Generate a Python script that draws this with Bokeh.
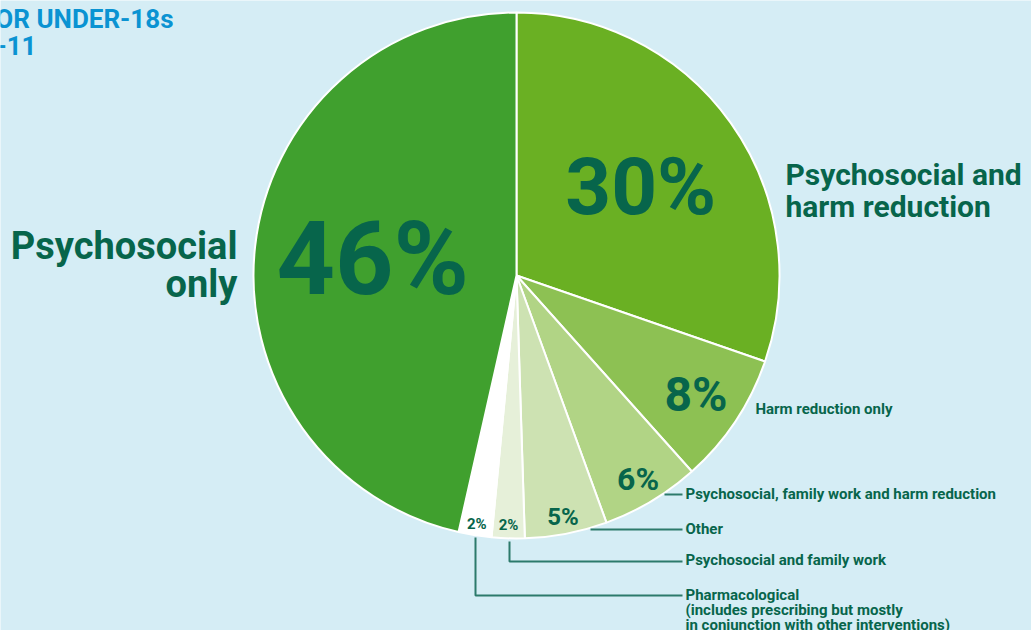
import math
from bokeh.plotting import figure
from bokeh.models import Range1d, ColumnDataSource
from bokeh.core.properties import value
from bokeh.embed import file_html
from bokeh.resources import INLINE

# ---- data ----
categories = ["Psychosocial and harm reduction", "Harm reduction only",
              "Psychosocial, family work and harm reduction", "Other",
              "Psychosocial and family work", "Pharmacological", "Psychosocial only"]
percent = [30, 8, 6, 5, 2, 2, 46]
pct_labels = ["30%", "8%", "6%", "5%", "2%", "2%", "46%"]

# ---- styles ----
W, H = 1031, 630
BG = "#d5edf5"
TXT = "#07654b"
LEAD = "#2c7a6b"
colors = ["#6ab023", "#8dc153", "#b1d485", "#cde2b2", "#e6f0d9", "#ffffff", "#40a02e"]
lab_r = [0.58, 0.82, 0.90, 0.935, 0.95, 0.955, 0.55]
lab_size = ["80px", "48px", "32px", "24px", "15px", "15px", "102px"]
FONT = "Roboto"

def Y(y):  # image y (down) -> plot y (up)
    return H - y

cx, cy, R = 516, Y(275), 263

p = figure(width=W, height=H, output_backend="svg", toolbar_location=None,
           x_range=Range1d(0, W), y_range=Range1d(0, H), min_border=0)
p.axis.visible = False
p.grid.visible = False
p.outline_line_color = None
p.background_fill_color = BG
p.border_fill_color = BG

total = float(sum(percent))
starts, ends, mids = [], [], []
cum = 0.0
for v in percent:
    a = cum / total
    b = (cum + v) / total
    starts.append(math.pi / 2 - 2 * math.pi * b)
    ends.append(math.pi / 2 - 2 * math.pi * a)
    mids.append(math.pi / 2 - 2 * math.pi * (a + b) / 2)
    cum += v

src = ColumnDataSource(dict(start=starts, end=ends, color=colors, cat=categories, val=percent))
p.wedge(x=cx, y=cy, radius=R, start_angle="start", end_angle="end", fill_color="color",
        line_color="white", line_width=2, source=src)

# percentage labels
for lab, m, rf, fs in zip(pct_labels, mids, lab_r, lab_size):
    p.text(x=[cx + rf * R * math.cos(m)], y=[cy + rf * R * math.sin(m)], text=[lab],
           text_font=value(FONT), text_font_style="bold", text_font_size=fs,
           text_color=TXT, text_align="center", text_baseline="middle")

def txt(x, y, s, size, align="left", color=TXT):
    p.text(x=[x], y=[Y(y)], text=[s], text_font=value(FONT), text_font_style="bold",
           text_font_size=size, text_color=color, text_align=align, text_baseline="middle")

# big category labels
txt(785, 174, "Psychosocial and", "30px")
txt(785, 206, "harm reduction", "30px")
txt(237, 245, "Psychosocial", "38px", align="right")
txt(237, 283, "only", "38px", align="right")
SM = "15px"
txt(755, 408, "Harm reduction only", SM)
txt(685, 493, "Psychosocial, family work and harm reduction", SM)
txt(685, 528, "Other", SM)
txt(685, 559, "Psychosocial and family work", SM)
txt(685, 594, "Pharmacological", SM)
txt(685, 609, "(includes prescribing but mostly", SM)
txt(685, 624, "in conjunction with other interventions)", SM)

# leader lines
leaders_x = [[664, 682], [590, 682], [509, 509, 682], [475, 475, 682]]
leaders_y = [[494, 494], [529, 529], [541, 561, 561], [537, 595, 595]]
p.multi_line(xs=leaders_x, ys=[[Y(v) for v in ys] for ys in leaders_y],
             line_color=LEAD, line_width=2)

# title (cropped at left edge)
txt(173, 18, "FOR UNDER-18s", "26px", align="right", color="#0a93d2")
txt(36, 45, "2010-11", "26px", align="right", color="#0a93d2")

open("out.html", "w").write(file_html(p, INLINE))
